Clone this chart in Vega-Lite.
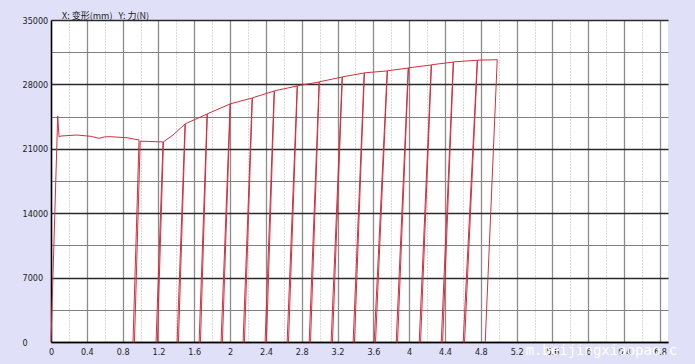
{
  "$schema": "https://vega.github.io/schema/vega-lite/v6.json",
  "width": 617,
  "height": 322,
  "autosize": "none",
  "padding": {"left": 51, "top": 20, "right": 27, "bottom": 22},
  "background": "#e0e0f8",
  "title": {
    "text": "X:\u00a0变形(mm)\u00a0\u00a0\u00a0Y:\u00a0力(N)",
    "anchor": "start",
    "frame": "group",
    "dx": 11,
    "dy": 6,
    "offset": 1,
    "font": "Noto Sans CJK SC",
    "fontSize": 9,
    "fontWeight": "normal",
    "color": "#222222"
  },
  "config": {
    "view": {"stroke": null, "fill": "white"}
  },
  "layer": [
    {
      "data": {
        "values": [
          {"i": 0, "x": 0, "y": 0},
          {"i": 1, "x": 0.075, "y": 24565},
          {"i": 2, "x": 0.09, "y": 22300},
          {"i": 3, "x": 0.112, "y": 22390},
          {"i": 4, "x": 0.29, "y": 22500},
          {"i": 5, "x": 0.45, "y": 22350},
          {"i": 6, "x": 0.536, "y": 22140},
          {"i": 7, "x": 0.6, "y": 22300},
          {"i": 8, "x": 0.67, "y": 22310},
          {"i": 9, "x": 0.849, "y": 22200},
          {"i": 10, "x": 0.983, "y": 21960},
          {"i": 11, "x": 0.916, "y": 0},
          {"i": 12, "x": 0.932, "y": 0},
          {"i": 13, "x": 0.996, "y": 21820},
          {"i": 14, "x": 1.1, "y": 21800},
          {"i": 15, "x": 1.251, "y": 21740},
          {"i": 16, "x": 1.173, "y": 0},
          {"i": 17, "x": 1.188, "y": 0},
          {"i": 18, "x": 1.256, "y": 21760},
          {"i": 19, "x": 1.363, "y": 22500},
          {"i": 20, "x": 1.497, "y": 23700},
          {"i": 21, "x": 1.408, "y": 0},
          {"i": 22, "x": 1.423, "y": 0},
          {"i": 23, "x": 1.5, "y": 23720},
          {"i": 24, "x": 1.743, "y": 24780},
          {"i": 25, "x": 1.654, "y": 0},
          {"i": 26, "x": 1.669, "y": 0},
          {"i": 27, "x": 1.746, "y": 24800},
          {"i": 28, "x": 2.0, "y": 25870},
          {"i": 29, "x": 1.899, "y": 0},
          {"i": 30, "x": 1.914, "y": 0},
          {"i": 31, "x": 2.003, "y": 25890},
          {"i": 32, "x": 2.246, "y": 26520},
          {"i": 33, "x": 2.145, "y": 0},
          {"i": 34, "x": 2.16, "y": 0},
          {"i": 35, "x": 2.249, "y": 26540},
          {"i": 36, "x": 2.492, "y": 27280},
          {"i": 37, "x": 2.391, "y": 0},
          {"i": 38, "x": 2.406, "y": 0},
          {"i": 39, "x": 2.495, "y": 27300},
          {"i": 40, "x": 2.749, "y": 27830},
          {"i": 41, "x": 2.637, "y": 0},
          {"i": 42, "x": 2.652, "y": 0},
          {"i": 43, "x": 2.752, "y": 27850},
          {"i": 44, "x": 2.994, "y": 28260},
          {"i": 45, "x": 2.883, "y": 0},
          {"i": 46, "x": 2.898, "y": 0},
          {"i": 47, "x": 2.997, "y": 28280},
          {"i": 48, "x": 3.251, "y": 28800},
          {"i": 49, "x": 3.128, "y": 0},
          {"i": 50, "x": 3.143, "y": 0},
          {"i": 51, "x": 3.254, "y": 28820},
          {"i": 52, "x": 3.497, "y": 29240},
          {"i": 53, "x": 3.374, "y": 0},
          {"i": 54, "x": 3.389, "y": 0},
          {"i": 55, "x": 3.5, "y": 29260},
          {"i": 56, "x": 3.754, "y": 29460},
          {"i": 57, "x": 3.609, "y": 0},
          {"i": 58, "x": 3.624, "y": 0},
          {"i": 59, "x": 3.757, "y": 29480},
          {"i": 60, "x": 3.989, "y": 29780},
          {"i": 61, "x": 3.855, "y": 0},
          {"i": 62, "x": 3.87, "y": 0},
          {"i": 63, "x": 3.992, "y": 29800},
          {"i": 64, "x": 4.246, "y": 30110},
          {"i": 65, "x": 4.112, "y": 0},
          {"i": 66, "x": 4.127, "y": 0},
          {"i": 67, "x": 4.249, "y": 30130},
          {"i": 68, "x": 4.492, "y": 30430},
          {"i": 69, "x": 4.358, "y": 0},
          {"i": 70, "x": 4.373, "y": 0},
          {"i": 71, "x": 4.495, "y": 30450},
          {"i": 72, "x": 4.76, "y": 30620},
          {"i": 73, "x": 4.603, "y": 0},
          {"i": 74, "x": 4.618, "y": 0},
          {"i": 75, "x": 4.763, "y": 30640},
          {"i": 76, "x": 4.983, "y": 30680},
          {"i": 77, "x": 4.849, "y": 0}
        ]
      },
      "mark": {"type": "line", "color": "#d03040", "strokeWidth": 1, "interpolate": "linear"},
      "encoding": {
        "x": {
          "field": "x",
          "type": "quantitative",
          "scale": {"domain": [0, 6.89], "nice": false, "zero": false},
          "axis": {
            "orient": "bottom",
            "tickCount": 200,
            "values": [0, 0.2, 0.4, 0.6, 0.8, 1.0, 1.2, 1.4, 1.6, 1.8, 2.0, 2.2, 2.4, 2.6, 2.8, 3.0, 3.2, 3.4, 3.6, 3.8, 4.0, 4.2, 4.4, 4.6, 4.8, 5.0, 5.2, 5.4, 5.6, 5.8, 6.0, 6.2, 6.4, 6.6, 6.8],
            "labelExpr": "round(datum.value*10) % 4 == 0 ? format(datum.value, '~g') : ''",
            "grid": true,
            "gridColor": {"condition": {"test": "round(datum.value*10) % 4 != 0", "value": "#b4b4b4"}, "value": "#8c8c8c"},
            "gridDash": {"condition": {"test": "round(datum.value*10) % 4 != 0", "value": [1, 2]}, "value": []},
            "gridWidth": {"condition": {"test": "round(datum.value*10) % 4 != 0", "value": 1}, "value": 1.3},
            "ticks": false,
            "domain": true,
            "domainColor": "#000000",
            "domainWidth": 1.5,
            "labelPadding": 5,
            "labelFont": "DejaVu Sans Condensed, Liberation Sans Narrow, sans-serif",
            "labelFontSize": 9,
            "labelColor": "#222222",
            "labelFlush": false,
            "labelOverlap": false,
            "title": "m.beijingxiaopao.c",
            "titleFont": "DejaVu Sans Mono",
            "titleFontSize": 14,
            "titleFontWeight": "normal",
            "titleColor": "#ffffff",
            "titleAlign": "left",
            "titleAnchor": null,
            "titleBaseline": "alphabetic",
            "titleX": 474,
            "titleY": 12
          }
        },
        "y": {
          "field": "y",
          "type": "quantitative",
          "scale": {"domain": [0, 35000], "nice": false},
          "axis": {
            "orient": "left",
            "tickCount": 200,
            "values": [0, 3500, 7000, 10500, 14000, 17500, 21000, 24500, 28000, 31500, 35000],
            "labelExpr": "datum.value % 7000 == 0 ? datum.value + '' : ''",
            "grid": true,
            "gridColor": {"condition": {"test": "datum.value % 7000 != 0", "value": "#808080"}, "value": "#2a2a2a"},
            "gridWidth": {"condition": {"test": "datum.value % 7000 != 0", "value": 1}, "value": 1.4},
            "ticks": false,
            "domain": true,
            "domainColor": "#000000",
            "domainWidth": 1.5,
            "labelAlign": "left",
            "labelBaseline": "middle",
            "labelPadding": 29,
            "labelFont": "DejaVu Sans Condensed, Liberation Sans Narrow, sans-serif",
            "labelFontSize": 9,
            "labelColor": "#222222",
            "labelFlush": false,
            "labelOverlap": false,
            "title": null
          }
        },
        "order": {"field": "i", "type": "quantitative"}
      }
    },
    {
      "mark": {"type": "point", "shape": "triangle-up", "filled": true, "color": "#000000", "size": 28, "opacity": 1},
      "encoding": {
        "x": {"datum": 0, "type": "quantitative"},
        "y": {"datum": 34520, "type": "quantitative"}
      }
    },
    {
      "mark": {"type": "point", "shape": "triangle-right", "filled": true, "color": "#000000", "size": 34, "opacity": 1},
      "encoding": {
        "x": {"datum": 6.85, "type": "quantitative"},
        "y": {"datum": 0, "type": "quantitative"}
      }
    }
  ]
}
